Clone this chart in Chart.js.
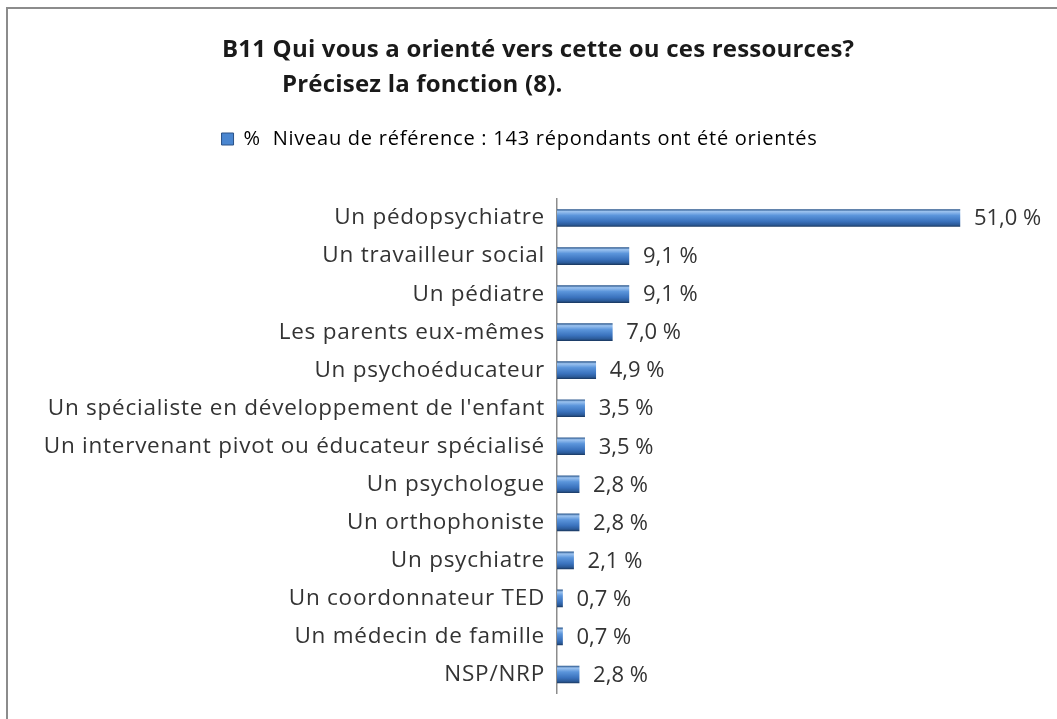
<!DOCTYPE html>
<html>
<head>
<meta charset="utf-8">
<script src="https://cdn.jsdelivr.net/npm/chart.js@4/dist/chart.umd.min.js"></script>
<style>
  body { margin: 0; background: #fff; }
  #wrap { position: relative; width: 1057px; height: 719px; }
  #frame { position: absolute; left: 6px; top: 7px; width: 1060px; height: 730px; border: 2px solid #8c8c8c; pointer-events: none; }
</style>
</head>
<body>
<div id="wrap">
  <canvas id="chart" width="1057" height="719"></canvas>
  <div id="frame"></div>
</div>
<script>
const categories = [
  'Un pédopsychiatre',
  'Un travailleur social',
  'Un pédiatre',
  'Les parents eux-mêmes',
  'Un psychoéducateur',
  "Un spécialiste en développement de l'enfant",
  'Un intervenant pivot ou éducateur spécialisé',
  'Un psychologue',
  'Un orthophoniste',
  'Un psychiatre',
  'Un coordonnateur TED',
  'Un médecin de famille',
  'NSP/NRP'
];
const percentages = [51.0, 9.1, 9.1, 7.0, 4.9, 3.5, 3.5, 2.8, 2.8, 2.1, 0.7, 0.7, 2.8];
const seriesLabel = '%  Niveau de référence : 143 répondants ont été orientés';
const titleLines = ['B11 Qui vous a orienté vers cette ou ces ressources?', 'Précisez la fonction (8).'];

const FONT = '"Open Sans", Lato, sans-serif';

// cylinder-like blue bar: dark rim, light band on top, darker bottom
function barFill(ctx) {
  const chart = ctx.chart;
  const y = chart.scales.y;
  if (!y || ctx.dataIndex === undefined) return '#4a86d0';
  const c = y.getPixelForValue(ctx.dataIndex);
  const g = chart.ctx.createLinearGradient(0, c - 8.5, 0, c + 8.5);
  g.addColorStop(0, '#2d5a90');
  g.addColorStop(0.12, '#9cc3f0');
  g.addColorStop(0.35, '#5b95db');
  g.addColorStop(0.7, '#3a72bd');
  g.addColorStop(0.9, '#2b5a98');
  g.addColorStop(1, '#1c3c66');
  return g;
}

// slightly wider text, closer to the original lettering
const spacing = {
  id: 'spacing',
  beforeLayout(chart) { chart.ctx.letterSpacing = '0.75px'; },
  beforeDraw(chart) { chart.ctx.letterSpacing = '0.75px'; }
};

const titlePlugin = {
  id: 'twoLineTitle',
  afterDraw(chart) {
    const c = chart.ctx;
    c.save();
    c.letterSpacing = '0.2px';
    c.fillStyle = '#1a1a1a';
    c.font = 'bold 24px ' + FONT;
    c.textBaseline = 'alphabetic';
    c.textAlign = 'left';
    c.fillText(titleLines[0], 222, 57);
    c.fillText(titleLines[1], 282, 92);
    c.restore();
  }
};

const legendGap = {
  id: 'legendGap',
  beforeInit(chart) {
    const fit = chart.legend.fit;
    chart.legend.fit = function () {
      fit.bind(chart.legend)();
      this.height += 40;
    };
  }
};

const valueLabels = {
  id: 'valueLabels',
  afterDatasetsDraw(chart) {
    const c = chart.ctx;
    const meta = chart.getDatasetMeta(0);
    c.save();
    c.letterSpacing = '0px';
    c.fillStyle = '#333';
    c.font = '22px ' + FONT;
    c.textBaseline = 'middle';
    c.textAlign = 'left';
    meta.data.forEach((bar, i) => {
      const txt = percentages[i].toFixed(1).replace('.', ',') + ' %';
      c.fillText(txt, bar.x + 14, bar.y + 1);
    });
    c.restore();
  }
};

new Chart(document.getElementById('chart'), {
  type: 'bar',
  data: {
    labels: categories,
    datasets: [{
      label: seriesLabel,
      data: percentages,
      backgroundColor: barFill,
      borderWidth: 0,
      barThickness: 17
    }]
  },
  options: {
    indexAxis: 'y',
    responsive: false,
    animation: false,
    layout: { padding: { top: 121, left: 8, right: 26, bottom: 22 } },
    scales: {
      x: { display: false, min: 0, max: 60 },
      y: {
        afterFit: (scale) => { scale.width = 549; },
        grid: { display: false, drawTicks: false },
        border: { display: true, color: '#8c8c8c', width: 1.5 },
        ticks: { color: '#333', font: { family: FONT, size: 22.5 }, padding: 12 }
      }
    },
    plugins: {
      title: { display: false },
      tooltip: { enabled: false },
      legend: {
        position: 'top',
        labels: {
          color: '#333',
          font: { family: FONT, size: 20 },
          boxWidth: 12,
          boxHeight: 12,
          padding: 8,
          generateLabels: (chart) => [{
            text: seriesLabel,
            fillStyle: '#4a86d0',
            strokeStyle: '#2a5288',
            lineWidth: 1,
            datasetIndex: 0
          }]
        }
      }
    }
  },
  plugins: [spacing, legendGap, valueLabels, titlePlugin]
});
</script>
</body>
</html>
